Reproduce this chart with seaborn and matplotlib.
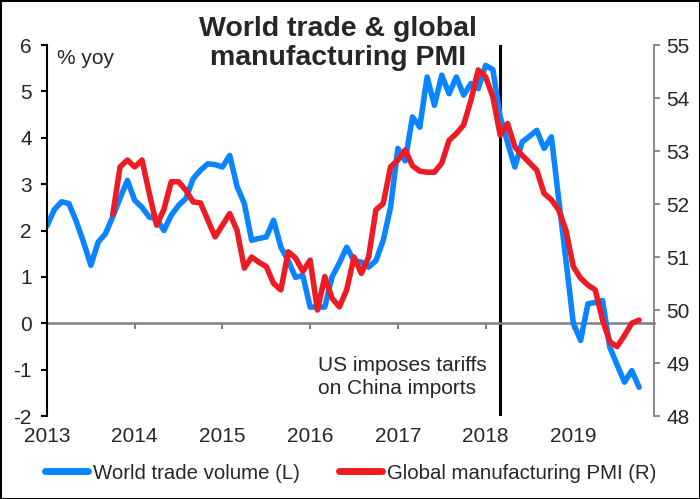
import numpy as np
import matplotlib
matplotlib.use("Agg")
import matplotlib.pyplot as plt
import seaborn as sns
from matplotlib.lines import Line2D

TRADE_COLOR = "#0A84FF"
PMI_COLOR = "#ED1C24"

# World trade volume, % yoy, monthly from Jan 2013
trade_start = 2013.0
trade_vals = [
    2.10, 2.45, 2.62, 2.58, 2.20, 1.75, 1.25, 1.75, 1.93, 2.30, 2.70, 3.08,
    2.65, 2.50, 2.29, 2.25, 2.00, 2.33, 2.54, 2.69, 3.12, 3.30, 3.44, 3.42,
    3.37, 3.62, 2.95, 2.58, 1.79, 1.83, 1.86, 2.22, 1.64, 1.35, 0.99, 1.03,
    0.35, 0.35, 0.35, 1.00, 1.30, 1.64, 1.35, 1.32, 1.21, 1.35, 1.79, 2.50,
    3.77, 3.50, 4.45, 4.23, 5.31, 4.70, 5.35, 4.95, 5.31, 4.92, 5.17, 5.06,
    5.56, 5.47, 4.45, 3.90, 3.37, 3.91, 4.03, 4.16, 3.77, 4.02, 2.68, 1.35,
    0.00, -0.37, 0.42, 0.45, 0.49, -0.52, -0.90, -1.27, -1.02, -1.38,
]

# Global manufacturing PMI, monthly from Oct 2013
pmi_start = 2013 + 9 / 12
pmi_vals = [
    51.80, 52.70, 52.83,
    52.70, 52.83, 52.20, 51.60, 51.90, 52.42, 52.42, 52.26, 52.04, 52.02, 51.70, 51.38,
    51.60, 51.82, 51.50, 50.79, 51.00, 50.90, 50.82, 50.50, 50.38, 51.10, 50.98, 50.73,
    50.94, 50.00, 50.63, 50.22, 50.06, 50.38, 51.00, 50.69, 51.00, 51.89, 52.01, 52.70,
    52.83, 53.02, 52.72, 52.62, 52.60, 52.60, 52.77, 53.20, 53.33, 53.49, 53.96, 54.53,
    54.40, 54.02, 53.30, 53.52, 53.08, 52.92, 52.78, 52.64, 52.20, 52.08, 51.89, 51.50,
    50.82, 50.60, 50.47, 50.38, 49.81, 49.40, 49.31, 49.52, 49.75, 49.81,
]

year_ticks = [2013, 2014, 2015, 2016, 2017, 2018, 2019]
left_ticks = list(range(-2, 7))
right_ticks = list(range(48, 56))
tariff_date = 2018 + 2 / 12  # March 2018

trade_x = trade_start + np.arange(len(trade_vals)) / 12
pmi_x = pmi_start + np.arange(len(pmi_vals)) / 12

sns.set_theme(style="white")
plt.rcParams["font.family"] = ["Liberation Sans", "DejaVu Sans"]
plt.rcParams["axes.unicode_minus"] = False

fig = plt.figure(figsize=(7.0, 4.99), dpi=100)
fig.patch.set_edgecolor("black")
fig.patch.set_linewidth(2.0)
ax = fig.add_axes([0.0671, 0.1663, 0.8672, 0.7435])
ax2 = ax.twinx()

sns.lineplot(x=trade_x, y=trade_vals, ax=ax, color=TRADE_COLOR, lw=4.0)
sns.lineplot(x=pmi_x, y=pmi_vals, ax=ax2, color=PMI_COLOR, lw=4.0)

ax.axvline(tariff_date, color="black", lw=2.2, zorder=1)

ax.set_xlim(2013, 2019.92)
ax.set_ylim(-2, 6)
ax2.set_ylim(48, 55)
ax.set_yticks(left_ticks)
ax2.set_yticks(right_ticks)
ax.set_ylabel("")
ax2.set_ylabel("")

# left axis
for s in ["top", "right"]:
    ax.spines[s].set_visible(False)
ax.spines["left"].set_color("black")
ax.spines["left"].set_linewidth(1.5)
ax.tick_params(axis="y", which="both", left=True, direction="out", length=4,
               width=1.5, color="black", labelsize=15, pad=7)

# zero line with year ticks
ax.spines["bottom"].set_position(("data", 0))
ax.spines["bottom"].set_color("#808080")
ax.spines["bottom"].set_linewidth(1.8)
ax.spines["bottom"].set_zorder(1)
ax.set_xticks(year_ticks)
ax.tick_params(axis="x", bottom=True, direction="out", length=4, width=1.5,
               color="#808080", labelbottom=False)

sec = ax.secondary_xaxis("bottom")
sec.spines["bottom"].set_visible(False)
sec.set_xticks(year_ticks)
sec.set_xticklabels([str(y) for y in year_ticks])
sec.tick_params(axis="x", length=0, labelsize=15, pad=8)

# right axis
for s in ["top", "left", "bottom"]:
    ax2.spines[s].set_visible(False)
ax2.spines["right"].set_color("#808080")
ax2.spines["right"].set_linewidth(1.3)
ax2.tick_params(axis="y", which="both", right=True, direction="out", length=4,
                width=1.3, color="#808080", labelsize=15, pad=5)

ax.grid(False)
ax2.grid(False)

ax.text(0.016, 0.99, "% yoy", transform=ax.transAxes, fontsize=15,
        ha="left", va="top")
ax.text(0.447, 0.048, "US imposes tariffs\non China imports",
        transform=ax.transAxes, fontsize=15, ha="left", va="bottom",
        linespacing=1.25)

fig.text(0.483, 0.968, "World trade & global\nmanufacturing PMI", ha="center",
         va="top", fontsize=20.5, fontweight="bold", linespacing=1.15)

handles = [Line2D([], [], color=TRADE_COLOR, lw=5),
           Line2D([], [], color=PMI_COLOR, lw=5)]
fig.legend(handles, ["World trade volume (L)", "Global manufacturing PMI (R)"],
           loc="center", bbox_to_anchor=(0.501, 0.052), ncol=2, frameon=False,
           fontsize=14.7, handlelength=2.1, handletextpad=0.25, columnspacing=1.9)

fig.savefig("out.png", dpi=100)
plt.close(fig)
